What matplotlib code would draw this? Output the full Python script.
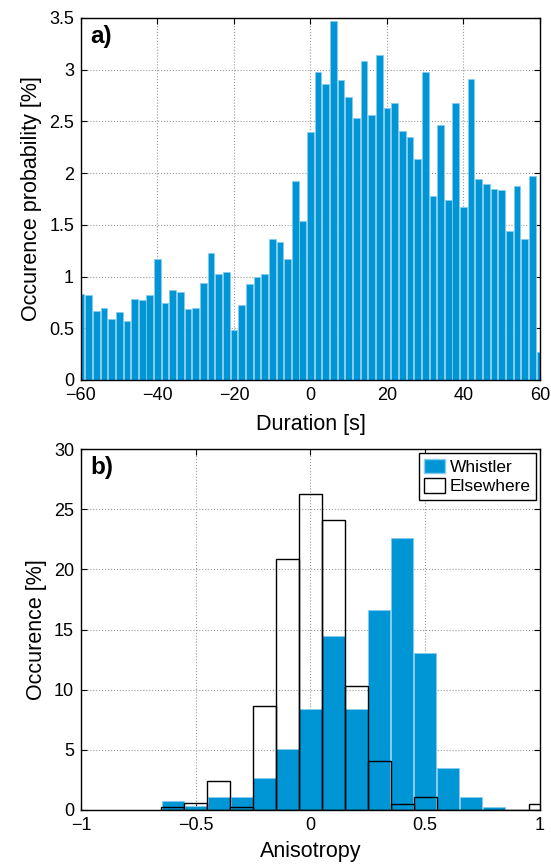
import matplotlib
matplotlib.use("Agg")
import matplotlib.pyplot as plt
from matplotlib.patches import Patch

plt.rcParams['font.family'] = ['Liberation Sans', 'DejaVu Sans']

# panel a) : occurence probability vs duration (2 s bins)
duration = list(range(-60, 61, 2))
occ_prob = [0.835, 0.82, 0.67, 0.70, 0.59, 0.655, 0.574, 0.78, 0.77, 0.82,
            1.174, 0.74, 0.868, 0.85, 0.684, 0.70, 0.94, 1.23, 1.02, 1.04,
            0.48, 0.726, 0.93, 1.0, 1.02, 1.368, 1.33, 1.17, 1.92, 1.54,
            2.40, 2.98, 2.86, 3.47, 2.90, 2.74, 2.53, 3.08, 2.56, 3.145,
            2.63, 2.68, 2.41, 2.345, 2.14, 2.98, 1.78, 2.47, 1.74, 2.68,
            1.67, 2.906, 1.945, 1.897, 1.85, 1.84, 1.44, 1.877, 1.368, 1.974,
            0.27]

# panel b) : anisotropy histograms (0.1 bins)
aniso = [-0.6, -0.5, -0.4, -0.3, -0.2, -0.1, 0.0, 0.1, 0.2, 0.3, 0.4,
         0.5, 0.6, 0.7, 0.8, 0.9, 1.0]
whistler = [0.77, 0.35, 1.05, 1.05, 2.68, 5.11, 8.43, 14.42, 8.40, 16.6,
            22.6, 13.07, 3.48, 1.05, 0.25, 0.0, 0.0]
elsewhere = [0.28, 0.55, 2.43, 0.28, 8.67, 20.88, 26.3, 24.12, 10.28, 4.06,
             0.5, 1.08, 0.0, 0.0, 0.0, 0.0, 0.5]

blue = '#0096d6'
light = '#86ccef'

fig = plt.figure(figsize=(5.51, 8.65), dpi=100)
ax1 = fig.add_axes([0.147, 0.5607, 0.833, 0.4185])
ax2 = fig.add_axes([0.147, 0.0636, 0.833, 0.4173])


def style_axis(ax):
    ax.grid(True, linestyle=':', color='#999999', linewidth=0.8)
    ax.set_axisbelow(True)
    ax.tick_params(direction='in', top=True, right=True, length=4,
                   width=0.8, labelsize=13, pad=5)
    for sp in ax.spines.values():
        sp.set_linewidth(1.0)


# top panel
ax1.bar(duration, occ_prob, width=1.75, color=blue, edgecolor=light,
        linewidth=0.6)
ax1.set_xlim(-60, 60)
ax1.set_ylim(0, 3.5)
ax1.set_xticks(range(-60, 61, 20))
ax1.set_yticks([0, 0.5, 1, 1.5, 2, 2.5, 3, 3.5])
ax1.set_yticklabels(['0', '0.5', '1', '1.5', '2', '2.5', '3', '3.5'])
ax1.set_xlabel('Duration [s]', fontsize=15.5, labelpad=7)
ax1.set_ylabel('Occurence probability [%]', fontsize=15.5, labelpad=5)
ax1.text(0.02, 0.98, 'a)', transform=ax1.transAxes, fontsize=17.5,
         fontweight='bold', va='top', ha='left')
style_axis(ax1)

# bottom panel
ax2.bar(aniso, whistler, width=0.097, color=blue, edgecolor=light,
        linewidth=0.6, zorder=2)
ax2.bar(aniso, elsewhere, width=0.1, facecolor='none', edgecolor='black',
        linewidth=1.0, zorder=3)
ax2.set_xlim(-1, 1)
ax2.set_ylim(0, 30)
ax2.set_xticks([-1, -0.5, 0, 0.5, 1])
ax2.set_xticklabels(['\u22121', '\u22120.5', '0', '0.5', '1'])
ax2.set_yticks(range(0, 31, 5))
ax2.set_xlabel('Anisotropy', fontsize=15.5, labelpad=5)
ax2.set_ylabel('Occurence [%]', fontsize=15.5, labelpad=5)
ax2.text(0.02, 0.98, 'b)', transform=ax2.transAxes, fontsize=17.5,
         fontweight='bold', va='top', ha='left')
handles = [Patch(facecolor=blue, edgecolor=light, label='Whistler'),
           Patch(facecolor='white', edgecolor='black', label='Elsewhere')]
leg = ax2.legend(handles=handles, loc='upper right', fontsize=12.5,
                 fancybox=False, edgecolor='black', framealpha=1,
                 borderaxespad=0.25, handlelength=1.2, handleheight=0.9,
                 handletextpad=0.25, borderpad=0.3, labelspacing=0.2)
leg.get_frame().set_linewidth(1.0)
style_axis(ax2)

fig.savefig('out.png', dpi=100)
